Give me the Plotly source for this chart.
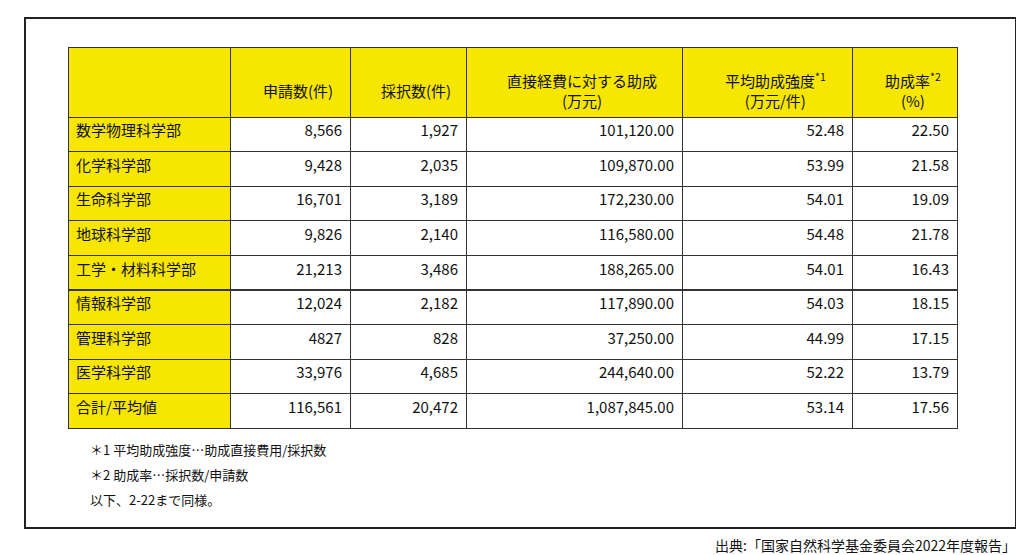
import plotly.graph_objects as go

departments = ["数学物理科学部", "化学科学部", "生命科学部", "地球科学部", "工学・材料科学部",
               "情報科学部", "管理科学部", "医学科学部", "合計/平均値"]
applications = ["8,566", "9,428", "16,701", "9,826", "21,213", "12,024", "4827", "33,976", "116,561"]
accepted = ["1,927", "2,035", "3,189", "2,140", "3,486", "2,182", "828", "4,685", "20,472"]
funding = ["101,120.00", "109,870.00", "172,230.00", "116,580.00", "188,265.00",
           "117,890.00", "37,250.00", "244,640.00", "1,087,845.00"]
intensity = ["52.48", "53.99", "54.01", "54.48", "54.01", "54.03", "44.99", "52.22", "53.14"]
rate = ["22.50", "21.58", "19.09", "21.78", "16.43", "18.15", "17.15", "13.79", "17.56"]
headers = ["申請数(件)", "採択数(件)", "直接経費に対する助成<br>(万元)",
           "平均助成強度<sup>*1</sup><br>(万元/件)", "助成率<sup>*2</sup><br>(%)"]

W, H = 1024, 555
YEL = "#F7E600"
font = "Noto Sans CJK JP"
n = len(departments)
bounds = [68, 230, 350, 466, 682, 852, 957]
widths = [b - a for a, b in zip(bounds[:-1], bounds[1:])]

fig = go.Figure(go.Table(
    columnwidth=widths,
    header=dict(values=[" "] * 6, fill_color=YEL, line=dict(color="#333", width=1),
                height=70, font=dict(family=font, size=15, color="#111")),
    cells=dict(values=[departments, applications, accepted, funding, intensity, rate],
               fill_color=[[YEL] * n] + [["white"] * n] * 5,
               line=dict(color="#333", width=1),
               align=["left", "right", "right", "right", "right", "right"],
               height=34.6,
               font=dict(family=font, size=15, color="#111")),
    domain=dict(x=[(68 - 8) / W, (957 - 8) / W], y=[1 - 424 / H, 1 - 39 / H]),
))

for i, h in enumerate(headers):
    cx = (bounds[i + 1] + bounds[i + 2]) / 2
    fig.add_annotation(text=h, x=cx / W, y=1 - 82 / H, xref="paper", yref="paper",
                       xanchor="center", yanchor="middle", align="center", showarrow=False,
                       font=dict(family=font, size=15, color="#111"))

fig.add_shape(type="rect", xref="paper", yref="paper",
              x0=17 / W, x1=1008 / W, y0=1 - 520 / H, y1=1 - 10 / H,
              line=dict(color="#222", width=2), fillcolor="rgba(0,0,0,0)")

notes = [("＊1 平均助成強度…助成直接費用/採択数", 80, 441),
         ("＊2 助成率…採択数/申請数", 80, 466),
         ("以下、2-22まで同様。", 80, 491)]
for t, x, y in notes:
    fig.add_annotation(text=t, x=x / W, y=1 - y / H, xref="paper", yref="paper",
                       xanchor="left", yanchor="middle", showarrow=False,
                       font=dict(family=font, size=13, color="#111"))
fig.add_annotation(text="出典:「国家自然科学基金委員会2022年度報告」", x=1010 / W, y=1 - 537 / H,
                   xref="paper", yref="paper", xanchor="right", yanchor="middle",
                   showarrow=False, font=dict(family=font, size=14, color="#111"))

fig.update_layout(width=W, height=H, margin=dict(l=0, r=0, t=0, b=0),
                  paper_bgcolor="white", plot_bgcolor="white")
fig.write_html("out.html")
